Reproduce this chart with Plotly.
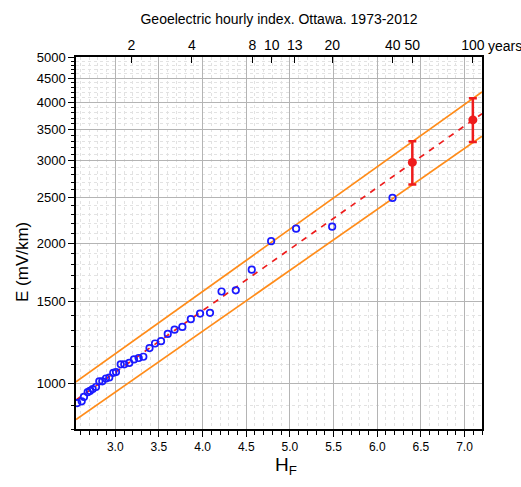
import numpy as np
import plotly.graph_objects as go

# ---- data ----
hf = [2.564, 2.615, 2.641, 2.684, 2.71, 2.741, 2.779, 2.817, 2.851, 2.893, 2.931,
      2.977, 3.008, 3.062, 3.103, 3.16, 3.214, 3.268, 3.321, 3.392, 3.455, 3.524,
      3.601, 3.679, 3.768, 3.865, 3.971, 4.085, 4.217, 4.38, 4.563, 4.785, 5.071,
      5.484, 6.175]
e_obs = [909, 917, 937, 959, 965, 974, 984, 1012, 1012, 1026, 1031, 1055, 1059,
         1100, 1100, 1108, 1127, 1135, 1142, 1192, 1219, 1233, 1278, 1305, 1323,
         1374, 1413, 1418, 1575, 1584, 1754, 2018, 2146, 2167, 2497]

fit_x = [2.55, 7.2]
fit_mid = [923, 3782]
fit_upper = [1009, 4208]
fit_lower = [838, 3384]

ret_periods_est = [50, 100]
est_center = [2975, 3668]
est_upper = [3300, 4081]
est_lower = [2668, 3290]

top_periods = [2, 4, 8, 10, 13, 20, 40, 50, 100]
top_labels = ["2", "4", "8", "10", "13", "20", "40", "50", "100"]
HF_OFFSET = 2.49  # H_F = ln(T) + offset

x_range = [2.55, 7.2]
y_range = [800, 5000]
y_major = [1000, 1500, 2000, 2500, 3000, 3500, 4000, 4500, 5000]
x_major = [3.0, 3.5, 4.0, 4.5, 5.0, 5.5, 6.0, 6.5, 7.0]

est_x = [np.log(t) + HF_OFFSET for t in ret_periods_est]
top_x = [np.log(t) + HF_OFFSET for t in top_periods]
y_minor = [v for v in range(800, 5001, 100) if v % 500 != 0]

ORANGE = "#ff8c1a"
RED = "#ee1c1c"
BLUE = "#1a1aff"
FONT = "Liberation Sans, Arial, sans-serif"

# plot-area geometry in pixels
L, R, T, B = 76, 39, 57, 58
PW, PH = 521 - L - R, 487 - T - B

fig = go.Figure()
fig.add_trace(go.Scatter(x=fit_x, y=fit_upper, mode="lines",
                         line=dict(color=ORANGE, width=1.7), hoverinfo="skip"))
fig.add_trace(go.Scatter(x=fit_x, y=fit_lower, mode="lines",
                         line=dict(color=ORANGE, width=1.7), hoverinfo="skip"))
fig.add_trace(go.Scatter(x=fit_x, y=fit_mid, mode="lines",
                         line=dict(color=RED, width=1.7, dash="6px,6px"), hoverinfo="skip"))
fig.add_trace(go.Scatter(x=hf, y=e_obs, mode="markers",
                         marker=dict(symbol="circle-open", size=6.5, color=BLUE,
                                     line=dict(width=1.7, color=BLUE))))
fig.add_trace(go.Scatter(
    x=est_x, y=est_center, mode="markers",
    marker=dict(symbol="circle", size=9, color=RED),
    error_y=dict(type="data", symmetric=False,
                 array=[u - c for u, c in zip(est_upper, est_center)],
                 arrayminus=[c - l for c, l in zip(est_center, est_lower)],
                 color=RED, thickness=2.5, width=4)))
# trace attached to the top axis so it is drawn
fig.add_trace(go.Scatter(x=[x_range[0]], y=[None], xaxis="x2", mode="markers",
                         showlegend=False, hoverinfo="skip"))

fig.update_layout(
    width=521, height=487,
    margin=dict(l=L, r=R, t=T, b=B),
    paper_bgcolor="white", plot_bgcolor="white",
    showlegend=False,
    font=dict(family=FONT, color="black"),
    title=dict(text="Geoelectric hourly index. Ottawa. 1973-2012",
               x=279 / 521, xanchor="center",
               y=1 - 19 / 487, yanchor="middle",
               font=dict(size=14, family=FONT)),
    xaxis=dict(range=x_range, tickmode="array", tickvals=x_major,
               ticktext=[f"{v:.1f}" for v in x_major],
               showgrid=True, gridcolor="#b4b4b4", gridwidth=1,
               ticks="outside", ticklen=6, tickcolor="black", tickwidth=1,
               showline=True, linecolor="black", linewidth=1.5, mirror=False,
               zeroline=False, tickfont=dict(size=12),
               minor=dict(dtick=0.1, tick0=2.5, ticks="outside", ticklen=4,
                          tickcolor="black", showgrid=True, gridcolor="#e2e2e2",
                          griddash="dot", gridwidth=1)),
    xaxis2=dict(range=x_range, overlaying="x", side="top", tickmode="array",
                tickvals=top_x, ticktext=top_labels, ticks="inside", ticklen=6,
                tickcolor="black", showgrid=False, showline=True,
                linecolor="black", linewidth=1.5, zeroline=False,
                tickfont=dict(size=14)),
    yaxis=dict(type="log", range=[np.log10(y_range[0]), np.log10(y_range[1])],
               tickmode="array", tickvals=y_major, ticktext=[str(v) for v in y_major],
               showgrid=True, gridcolor="#b4b4b4", gridwidth=1,
               ticks="outside", ticklen=6, tickcolor="black",
               showline=True, linecolor="black", linewidth=1.5, mirror=True,
               zeroline=False, tickfont=dict(size=13),
               minor=dict(tickmode="array", tickvals=y_minor, ticks="outside",
                          ticklen=3, tickcolor="black", showgrid=True,
                          gridcolor="#e2e2e2", griddash="dot", gridwidth=1)),
)

fig.add_annotation(text="E (mV/km)", xref="paper", yref="paper",
                   x=(22 - L) / PW, y=1 - (262 - T) / PH, textangle=-90,
                   showarrow=False, font=dict(size=17, family=FONT),
                   xanchor="center", yanchor="middle")
fig.add_annotation(text="H<sub>F</sub>", xref="paper", yref="paper",
                   x=(286 - L) / PW, y=-(466 - (T + PH)) / PH, showarrow=False,
                   font=dict(size=19, family=FONT), xanchor="center", yanchor="middle")
fig.add_annotation(text="years", xref="paper", yref="paper",
                   x=(486 - L) / PW, y=1 + (T - 46) / PH,
                   showarrow=False, font=dict(size=14, family=FONT),
                   xanchor="left", yanchor="middle")

fig.write_html("out.html")
